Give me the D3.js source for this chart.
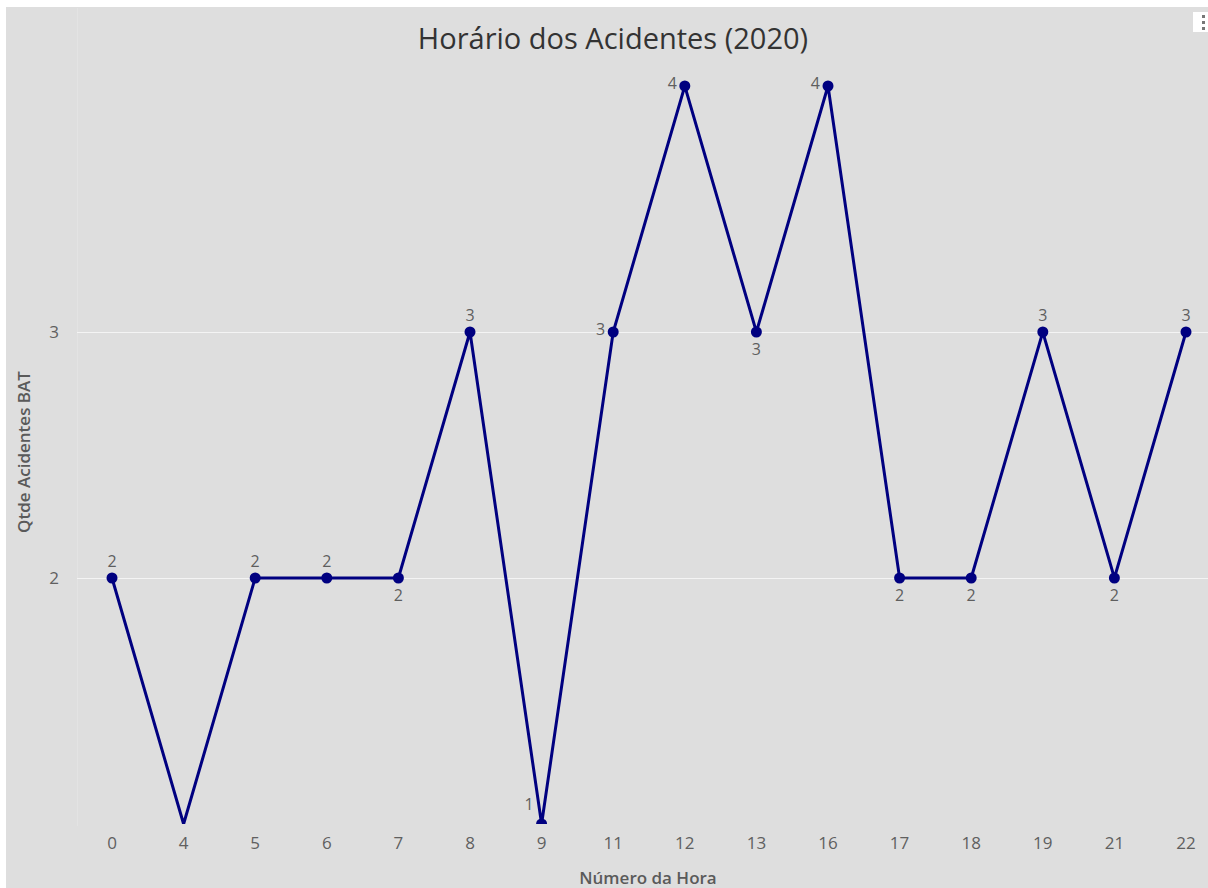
<!DOCTYPE html>
<html lang="pt">
<head>
<meta charset="UTF-8">
<script src="https://d3js.org/d3.v7.min.js"></script>
<style>
  html, body { margin: 0; padding: 0; background: #ffffff; }
  #chart { position: absolute; left: 0; top: 0; width: 1208px; height: 888px; }
</style>
</head>
<body>
<div id="chart"></div>
<script>
// data
var hours = ["0", "4", "5", "6", "7", "8", "9", "11", "12", "13", "16", "17", "18", "19", "21", "22"];
var accidents = [2, 1, 2, 2, 2, 3, 1, 3, 4, 3, 4, 2, 2, 3, 2, 3];
var yTicks = [2, 3];

var W = 1208, H = 888;
var plot = { left: 77, right: 1208, top: 8, bottom: 824 };

// where each value label sits relative to its point
var labelSide = { "0": "up", "4": "none", "5": "up", "6": "up", "7": "down", "8": "up",
  "9": "left", "11": "left", "12": "left", "13": "down", "16": "left",
  "17": "down", "18": "down", "19": "up", "21": "down", "22": "up" };

var svg = d3.select("#chart").append("svg")
    .attr("width", W)
    .attr("height", H)
    .style("font-family", "'Open Sans', sans-serif");

// gray card
svg.append("rect")
    .attr("x", 6).attr("y", 7)
    .attr("width", W - 6).attr("height", H - 7)
    .attr("fill", "#dedede");

// faint plot-area edge
svg.append("line")
    .attr("x1", plot.left + 0.5).attr("x2", plot.left + 0.5)
    .attr("y1", plot.top).attr("y2", plot.bottom + 2)
    .attr("stroke", "#e3e3e3");

var x = d3.scalePoint().domain(hours).range([112, 1186]);
var y = d3.scaleLinear().domain([1, 4]).range([824, 86]);

// grid
svg.append("g").selectAll("line")
  .data(yTicks)
  .join("line")
    .attr("x1", plot.left).attr("x2", W)
    .attr("y1", d => Math.round(y(d)) + 0.5).attr("y2", d => Math.round(y(d)) + 0.5)
    .attr("stroke", "#f4f4f4")
    .attr("stroke-width", 1);

// y ticks
svg.append("g").selectAll("text")
  .data(yTicks)
  .join("text")
    .attr("x", 54).attr("y", d => y(d))
    .attr("dy", "0.35em")
    .attr("text-anchor", "middle")
    .attr("font-size", 17)
    .attr("fill", "#606060")
    .text(d => d);

// x ticks
svg.append("g").selectAll("text")
  .data(hours)
  .join("text")
    .attr("x", d => x(d)).attr("y", 849)
    .attr("text-anchor", "middle")
    .attr("font-size", 17)
    .attr("fill", "#606060")
    .text(d => d);

// axis titles
svg.append("text")
    .attr("x", 648).attr("y", 884)
    .attr("text-anchor", "middle")
    .attr("font-size", 17)
    .attr("font-weight", 600)
    .attr("fill", "#5a5a5a")
    .text("Número da Hora");

svg.append("text")
    .attr("transform", "translate(30,452) rotate(-90)")
    .attr("text-anchor", "middle")
    .attr("font-size", 17)
    .attr("font-weight", 600)
    .attr("fill", "#5a5a5a")
    .text("Qtde Acidentes BAT");

// title
svg.append("text")
    .attr("x", 613).attr("y", 49)
    .attr("text-anchor", "middle")
    .attr("font-size", 29)
    .attr("fill", "#333333")
    .text("Horário dos Acidentes (2020)");

// clipped series
svg.append("clipPath").attr("id", "plotclip")
  .append("rect")
    .attr("x", plot.left).attr("y", plot.top)
    .attr("width", plot.right - plot.left).attr("height", plot.bottom - plot.top);

var pts = hours.map((h, i) => ({ h: h, v: accidents[i] }));

var g = svg.append("g").attr("clip-path", "url(#plotclip)");

g.append("path")
    .datum(pts)
    .attr("fill", "none")
    .attr("stroke", "#000080")
    .attr("stroke-width", 3)
    .attr("stroke-linejoin", "miter")
    .attr("d", d3.line().x(d => x(d.h)).y(d => y(d.v)));

g.selectAll("circle")
  .data(pts.filter(d => labelSide[d.h] !== "none"))
  .join("circle")
    .attr("cx", d => x(d.h)).attr("cy", d => y(d.v))
    .attr("r", 5.5)
    .attr("fill", "#000080");

// value labels (kept inside the plot area)
svg.append("g").selectAll("text")
  .data(pts.filter(d => labelSide[d.h] !== "none"))
  .join("text")
    .attr("x", d => labelSide[d.h] === "left" ? x(d.h) - 8 : x(d.h))
    .attr("y", d => {
      var s = labelSide[d.h];
      if (s === "up") return y(d.v) - 11;
      if (s === "down") return y(d.v) + 23;
      return Math.min(y(d.v) + 3, plot.bottom - 14);
    })
    .attr("text-anchor", d => labelSide[d.h] === "left" ? "end" : "middle")
    .attr("font-size", 16)
    .attr("fill", "#5e5e5e")
    .text(d => d.v);

// menu dots top right
svg.append("rect")
    .attr("x", 1193).attr("y", 12).attr("width", 15).attr("height", 20)
    .attr("fill", "#ffffff");
svg.append("g").selectAll("rect")
  .data([0, 1, 2])
  .join("rect")
    .attr("x", 1202).attr("y", d => 15 + d * 6)
    .attr("width", 3).attr("height", 3)
    .attr("fill", "#777777");
</script>
</body>
</html>
